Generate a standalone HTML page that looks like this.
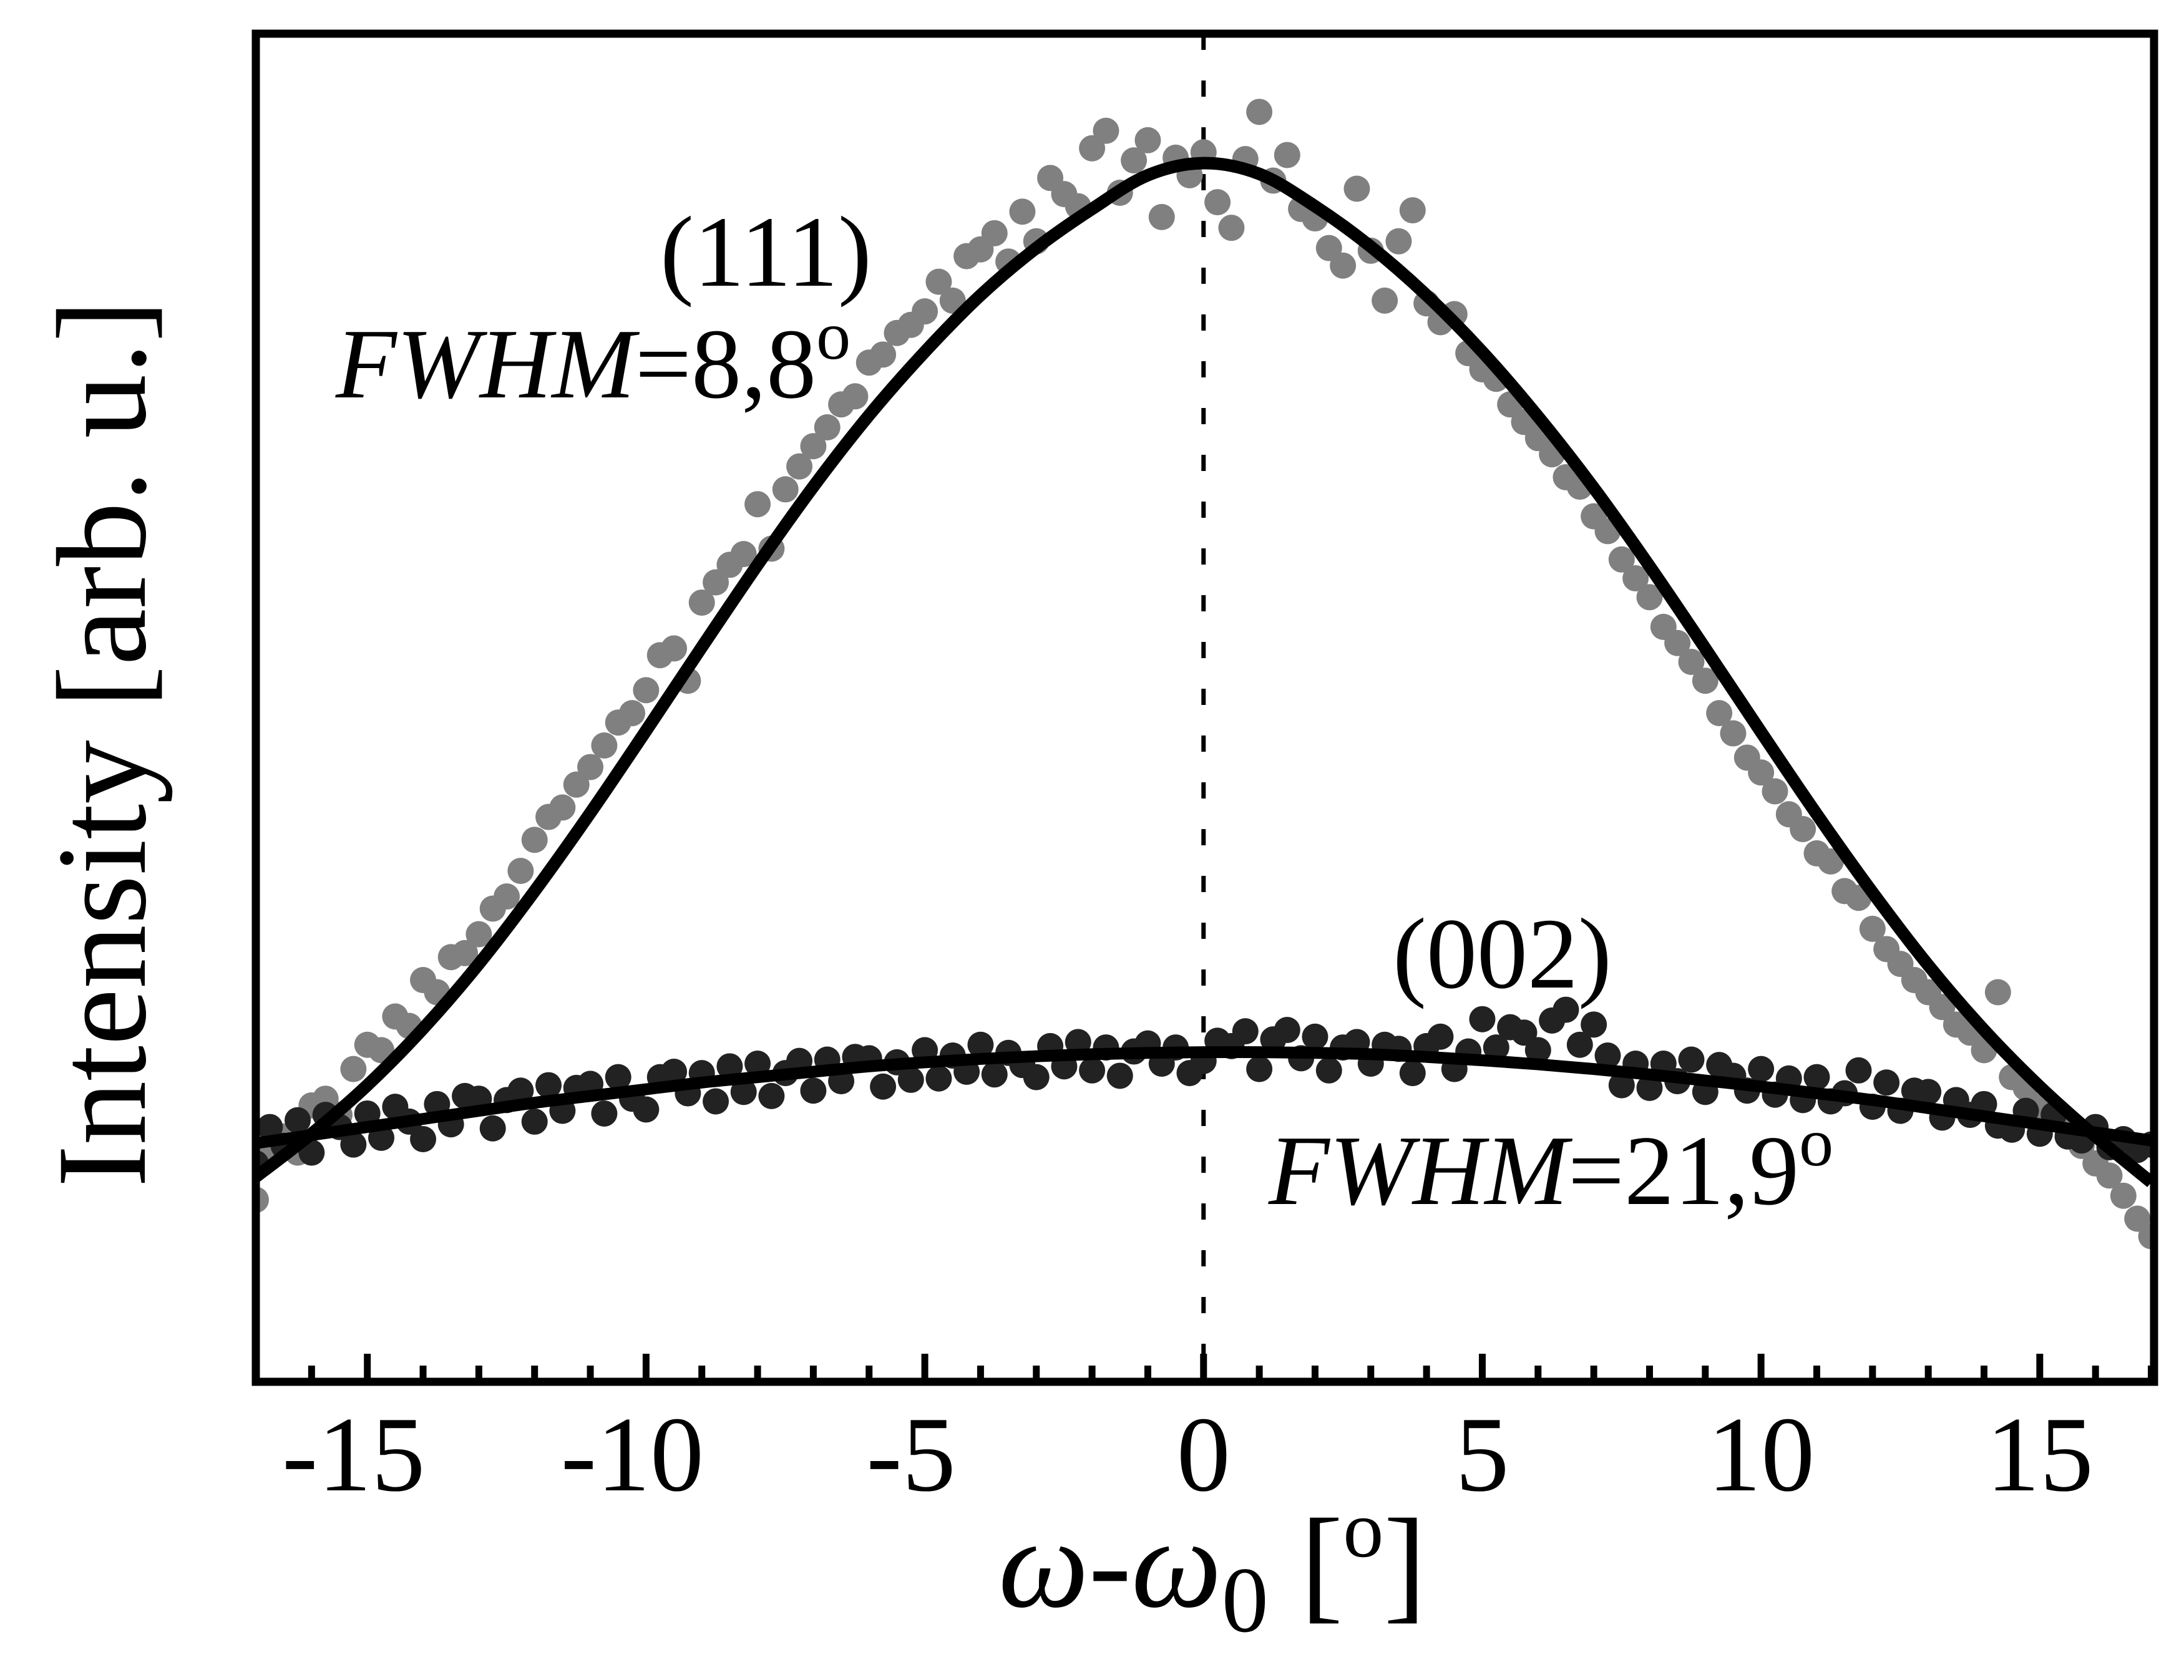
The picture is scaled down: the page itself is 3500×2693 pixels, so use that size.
<!DOCTYPE html>
<html><head><meta charset="utf-8"><style>
html,body{margin:0;padding:0;background:#fff;}
svg{display:block;}
text{font-family:"Liberation Serif","Times New Roman",serif;fill:#000;}
</style></head><body>
<svg id="chart" width="3500" height="2693" viewBox="0 0 3500 2693" xmlns="http://www.w3.org/2000/svg" font-family="Liberation Serif, serif">
<defs><clipPath id="plotclip"><rect x="410" y="54" width="3042" height="2161"/></clipPath></defs>
<g id="marks" clip-path="url(#plotclip)"></g>
<g id="axes"></g>
<text x="1058" y="458" font-size="162">(111)</text>
<text x="538" y="637" font-size="160"><tspan font-style="italic">FWHM</tspan>=8,8<tspan dy="-62" font-size="110">o</tspan></text>
<text x="2232" y="1583" font-size="162">(002)</text>
<text x="2033" y="1930" font-size="160"><tspan font-style="italic">FWHM</tspan>=21,9<tspan dy="-62" font-size="110">o</tspan></text>
<text transform="translate(232,1192) rotate(-90)" text-anchor="middle" font-size="205">Intensity [arb. u.]</text>
<text x="1600" y="2575" font-size="205"><tspan font-style="italic">ω</tspan>-<tspan font-style="italic">ω</tspan><tspan dy="40" font-size="150">0</tspan><tspan dy="-40"> [</tspan><tspan dy="-80" font-size="130">o</tspan><tspan dy="80">]</tspan></text>
</svg>
<script>
const xTicks = [-15,-10,-5,0,5,10,15];
const xTickLabels = ["-15","-10","-5","0","5","10","15"];
const xStart = -17, xStep = 0.25;
const fitX = [-17,-16,-15,-14,-13,-12,-11,-10,-9,-8,-7,-6,-5,-4,-3,-2,-1,0,1,2,3,4,5,6,7,8,9,10,11,12,13,14,15,16,17];
const fit111 = [15.2,18.4,22.0,26.2,31.0,36.4,42.2,48.3,54.5,60.6,66.4,71.7,76.4,80.6,84.1,87.0,89.5,90.4,89.6,87.2,84.2,80.6,76.4,71.6,66.3,60.5,54.4,48.2,42.1,36.3,30.9,26.1,21.9,18.2,14.8];
const fit002 = [17.7,18.3,18.9,19.5,20.1,20.7,21.2,21.7,22.2,22.6,23.0,23.4,23.7,23.95,24.15,24.3,24.4,24.45,24.45,24.4,24.3,24.1,23.85,23.55,23.2,22.8,22.35,21.9,21.4,20.9,20.3,19.7,19.1,18.5,17.9];
const data111 = [13.5,16.8,18.2,17.0, 20.5,21.0,19.8,23.2, 25.0,24.6,27.1,26.4, 29.8,28.9,31.5,31.8, 33.2,35.1,36.0,37.9, 40.2,41.9,42.6,44.3, 45.6,47.2,48.9,49.6, 51.3,53.9,54.4,52.0, 57.8,59.3,60.6,61.4, 65.1,61.8,66.2,67.9, 69.4,70.8,72.5,73.1, 75.6,76.2,77.8,78.4, 79.4,81.6,80.2,83.5, 84.0,85.2,83.1,86.8, 84.6,89.3,88.1,87.2, 91.5,92.8,88.2,90.6, 92.1,86.4,90.8,89.5, 91.2,87.5,85.6,90.7, 94.2,89.1,91.0,87.0, 86.3,84.1,82.8,88.5, 83.9,80.2,84.6,86.9, 80.0,78.6,79.2,76.3, 75.1,74.4,72.5,71.2, 70.0,68.8,67.1,66.4, 64.2,63.1,61.0,59.6, 58.2,56.0,54.8,53.4, 52.0,49.6,48.1,46.3, 45.2,43.8,42.1,41.0, 39.2,38.6,36.4,35.9, 33.6,32.1,31.0,29.8, 28.9,27.8,26.5,25.9, 24.6,28.9,22.6,21.8, 20.4,19.8,18.6,17.5, 16.2,15.3,13.8,12.1, 10.8];
const data002 = [16.2,18.9,17.5,19.4, 17.0,19.8,18.9,17.6, 19.9,18.1,20.4,19.3, 18.0,20.6,19.1,21.2, 21.0,18.8,20.9,21.6, 19.3,22.0,20.1,21.8, 22.1,19.9,22.6,21.0, 20.2,22.6,23.0,21.4, 22.9,20.8,23.4,21.5, 23.6,21.2,22.9,23.8, 21.6,23.9,22.3,24.1, 24.0,21.9,23.7,22.4, 24.6,22.5,24.2,23.0, 25.0,22.8,24.4,23.5, 22.6,24.9,23.4,25.2, 23.1,24.8,22.7,24.5, 25.1,23.6,24.8,22.9, 23.8,25.3,24.9,26.0, 23.2,25.4,26.1,24.0, 25.6,23.1,24.8,25.2, 23.6,25.0,24.7,22.9, 24.9,25.6,23.2,24.5, 26.9,24.8,26.3,25.9, 24.6,26.8,27.6,25.0, 26.5,24.2,22.0,23.6, 21.8,23.6,22.3,23.9, 21.5,23.5,22.7,21.6, 23.2,21.3,22.5,20.9, 22.6,20.8,21.4,23.1, 20.4,22.2,20.1,21.6, 21.5,19.6,20.9,19.8, 20.6,19.0,18.7,20.1, 18.4,19.8,18.2,17.9, 18.9,17.4,18.0,17.2, 17.6];

const NS = "http://www.w3.org/2000/svg";
const L = 410, R = 3452, T = 54, B = 2215;
const xMin = -17, xMax = 17.05, yMin = 0, yMax = 100;
function sx(v){ return L + (v - xMin) / (xMax - xMin) * (R - L); }
function sy(v){ return B - (v - yMin) / (yMax - yMin) * (B - T); }
const marks = document.getElementById('marks');
const axes = document.getElementById('axes');
function mk(tag, attrs, parent){ const e = document.createElementNS(NS, tag); for (const k in attrs) e.setAttribute(k, attrs[k]); parent.appendChild(e); return e; }

const zl = mk('line', {x1: sx(0), x2: sx(0), y1: T, y2: B, stroke: '#000', 'stroke-width': 7, 'stroke-dasharray': '26 49'}, marks);



function scatter(vals, color, name){
  const g = mk('g', {fill: color}, marks);
  
  
  vals.forEach((v, i) => {
    const c = mk('circle', {cx: sx(xStart + i * xStep), cy: sy(v), r: 21}, g);
    
    
  });
}
scatter(data111, '#808080', 'series-111-points');
scatter(data002, '#222222', 'series-002-points');

function smoothPath(xs, ys){
  const p = xs.map((x, i) => [sx(x), sy(ys[i])]);
  let d = 'M' + p[0][0] + ' ' + p[0][1];
  for (let i = 0; i < p.length - 1; i++){
    const p0 = p[Math.max(i - 1, 0)], p1 = p[i], p2 = p[i + 1], p3 = p[Math.min(i + 2, p.length - 1)];
    const c1x = p1[0] + (p2[0] - p0[0]) / 6, c1y = p1[1] + (p2[1] - p0[1]) / 6;
    const c2x = p2[0] - (p3[0] - p1[0]) / 6, c2y = p2[1] - (p3[1] - p1[1]) / 6;
    d += ' C' + c1x + ' ' + c1y + ' ' + c2x + ' ' + c2y + ' ' + p2[0] + ' ' + p2[1];
  }
  return d;
}
const f1 = mk('path', {d: smoothPath(fitX, fit111), fill: 'none', stroke: '#000', 'stroke-width': 20}, marks);


const f2 = mk('path', {d: smoothPath(fitX, fit002), fill: 'none', stroke: '#000', 'stroke-width': 19}, marks);



const fr = mk('rect', {x: L, y: T, width: R - L, height: B - T, fill: 'none', stroke: '#000', 'stroke-width': 13}, axes);



for (let v = -17; v <= 17; v++){
  if (xTicks.indexOf(v) >= 0) continue;
  const t = mk('line', {x1: sx(v), x2: sx(v), y1: B, y2: B - 26, stroke: '#000', 'stroke-width': 11}, axes);
  
  
}
xTicks.forEach((v, i) => {
  const t = mk('line', {x1: sx(v), x2: sx(v), y1: B, y2: B - 45, stroke: '#000', 'stroke-width': 11}, axes);
  
  
  const lb = mk('text', {x: sx(v) - (xTickLabels[i].startsWith('-') ? 22 : 0), y: 2389, 'text-anchor': 'middle', 'font-size': 172}, axes);
  lb.textContent = xTickLabels[i];
  
  
});
</script>
</body></html>
